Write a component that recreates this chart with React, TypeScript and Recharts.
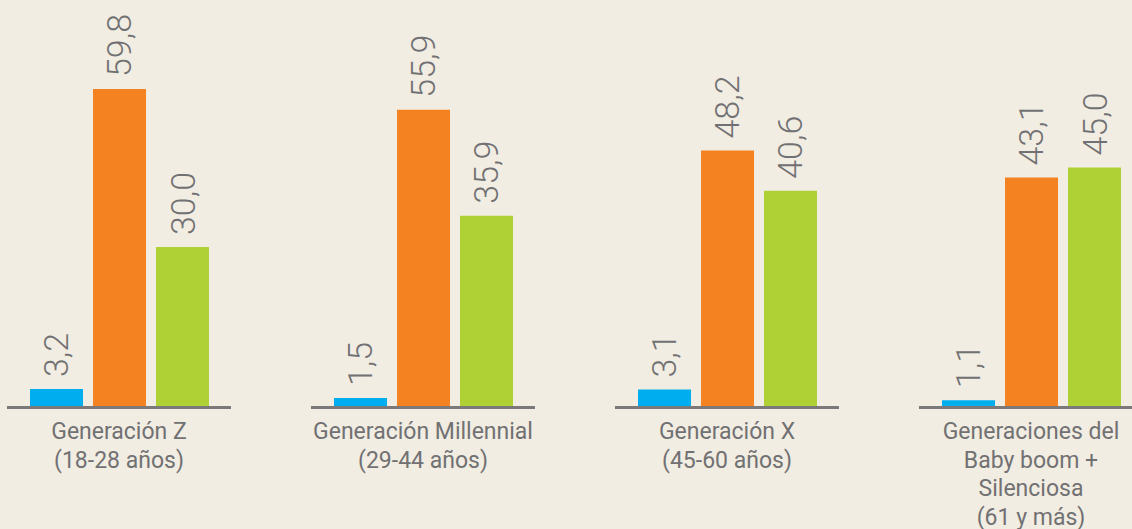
import React from "react";
import { BarChart, Bar, XAxis, YAxis, LabelList } from "recharts";

// generation groups (each label split into lines)
const categories = [
  "Generación Z|(18-28 años)",
  "Generación Millennial|(29-44 años)",
  "Generación X|(45-60 años)",
  "Generaciones del|Baby boom +|Silenciosa|(61 y más)",
];
const seriesBlue = [3.2, 1.5, 3.1, 1.1];
const seriesOrange = [59.8, 55.9, 48.2, 43.1];
const seriesGreen = [30.0, 35.9, 40.6, 45.0];

const data = categories.map((name, i) => ({
  name,
  blue: seriesBlue[i],
  orange: seriesOrange[i],
  green: seriesGreen[i],
}));

const TEXT = "#717173";
const FONT = "Roboto, 'Liberation Sans', sans-serif";

const fmt = (v: number) => v.toFixed(1).replace(".", ",");

const ValueLabel = (props: any) => {
  const { x, y, width, value } = props;
  const cx = x + width / 2;
  const ty = y - 12;
  return (
    <text
      x={cx}
      y={ty}
      transform={`rotate(-90, ${cx}, ${ty})`}
      textAnchor="start"
      dominantBaseline="central"
      fill={TEXT}
      fontSize={34}
      fontWeight={300}
      fontFamily={FONT}
    >
      {fmt(value)}
    </text>
  );
};

const GroupTick = (props: any) => {
  const { x, y, payload } = props;
  const lines = String(payload.value).split("|");
  return (
    <g>
      <line x1={x - 112} x2={x + 112} y1={y + 1.5} y2={y + 1.5} stroke="#7b797a" strokeWidth={3} />
      {lines.map((l, i) => (
        <text
          key={i}
          x={x}
          y={y + 33 + i * 28.5}
          textAnchor="middle"
          fill={TEXT}
          fontSize={23}
          fontFamily={FONT}
        >
          {l}
        </text>
      ))}
    </g>
  );
};

export default function App() {
  return (
    <div style={{ position: "fixed", left: 0, top: 0, width: 1132, height: 529, background: "#f1ede2" }}>
      <BarChart
        width={1132}
        height={529}
        data={data}
        margin={{ top: 88, right: -51, bottom: 0, left: -33 }}
        barSize={53}
        barGap={10}
      >
        <XAxis
          dataKey="name"
          axisLine={false}
          tickLine={false}
          tickSize={0}
          tickMargin={0}
          height={123}
          interval={0}
          tick={<GroupTick />}
        />
        <YAxis hide domain={[0, 60]} />
        <Bar dataKey="blue" fill="#00aeef" isAnimationActive={false}>
          <LabelList dataKey="blue" content={<ValueLabel />} />
        </Bar>
        <Bar dataKey="orange" fill="#f58220" isAnimationActive={false}>
          <LabelList dataKey="orange" content={<ValueLabel />} />
        </Bar>
        <Bar dataKey="green" fill="#afd136" isAnimationActive={false}>
          <LabelList dataKey="green" content={<ValueLabel />} />
        </Bar>
      </BarChart>
    </div>
  );
}
